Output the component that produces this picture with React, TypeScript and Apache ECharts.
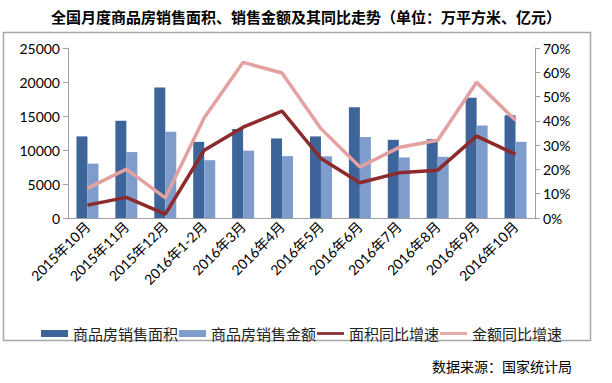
import React, { useEffect, useRef } from "react";
import * as echarts from "echarts";

const categories = [
  "2015年10月", "2015年11月", "2015年12月", "2016年1-2月", "2016年3月", "2016年4月",
  "2016年5月", "2016年6月", "2016年7月", "2016年8月", "2016年9月", "2016年10月",
];
const salesArea = [12000, 14300, 19200, 11200, 13100, 11700, 12000, 16300, 11500, 11600, 17700, 15100];
const salesAmount = [8000, 9700, 12700, 8500, 9900, 9100, 9070, 11900, 8900, 9000, 13600, 11200];
const areaGrowth = [5.3, 8.5, 1.6, 27.9, 37.4, 44.0, 24.5, 14.5, 18.6, 19.7, 33.7, 26.2];
const amountGrowth = [12.2, 20.1, 8.3, 41.3, 64.1, 59.7, 36.8, 21.0, 29.0, 32.0, 55.9, 40.2];
const seriesNames = ["商品房销售面积", "商品房销售金额", "面积同比增速", "金额同比增速"];
const titleText = "全国月度商品房销售面积、销售金额及其同比走势（单位：万平方米、亿元）";
const sourceText = "数据来源：国家统计局";

const FONT = 'Lato, "Noto Sans CJK SC", sans-serif';
const CJK = '"Noto Sans CJK SC", sans-serif';
const LINE_ICON = "path://M0,0 L30,0 L30,3 L0,3 Z";

export default function App() {
  const ref = useRef<HTMLDivElement>(null);
  useEffect(() => {
    if (!ref.current) return;
    const chart = echarts.init(ref.current, undefined, { renderer: "svg" });
    chart.setOption({
      animation: false,
      backgroundColor: "#fff",
      title: {
        text: titleText,
        left: "center",
        top: 4,
        textStyle: { fontFamily: CJK, fontSize: 15, fontWeight: "bold", color: "#000" },
      },
      graphic: [
        {
          type: "rect",
          shape: { x: 3.5, y: 32.5, width: 587, height: 308 },
          style: { fill: "none", stroke: "#A6A6A6", lineWidth: 1.5 },
          silent: true,
        },
        {
          type: "text",
          right: 40,
          top: 359,
          style: { text: sourceText, font: `14px ${CJK}`, fill: "#000" },
        },
      ],
      legend: {
        data: [
          { name: seriesNames[0], icon: "rect" },
          { name: seriesNames[1], icon: "rect" },
          { name: seriesNames[2], icon: LINE_ICON },
          { name: seriesNames[3], icon: LINE_ICON },
        ],
        top: 321,
        left: 36,
        itemWidth: 27,
        itemHeight: 7,
        itemGap: 1,
        textStyle: { fontFamily: CJK, fontSize: 15, color: "#222" },
      },
      grid: { left: 68, right: 77, top: 48, bottom: 165 },
      xAxis: {
        type: "category",
        data: categories,
        boundaryGap: true,
        axisLine: { lineStyle: { color: "#A0A0A0" } },
        axisTick: { lineStyle: { color: "#A0A0A0" }, length: 5 },
        axisLabel: {
          rotate: 45,
          interval: 0,
          margin: 6,
          fontFamily: FONT,
          fontSize: 14,
          color: "#000",
        },
      },
      yAxis: [
        {
          type: "value",
          min: 0,
          max: 25000,
          interval: 5000,
          axisLine: { show: true, lineStyle: { color: "#A0A0A0" } },
          axisTick: { show: true, lineStyle: { color: "#A0A0A0" }, length: 5 },
          splitLine: { show: false },
          axisLabel: {
            fontFamily: FONT,
            fontSize: 14,
            color: "#000",
            margin: 8,
            formatter: (v: number) => String(v),
          },
        },
        {
          type: "value",
          min: 0,
          max: 70,
          interval: 10,
          position: "right",
          axisLine: { show: true, lineStyle: { color: "#A0A0A0" } },
          axisTick: { show: true, lineStyle: { color: "#A0A0A0" }, length: 5 },
          splitLine: { show: false },
          axisLabel: { fontFamily: FONT, fontSize: 14, color: "#000", margin: 8, formatter: "{value}%" },
        },
      ],
      series: [
        {
          name: seriesNames[0],
          type: "bar",
          data: salesArea,
          barWidth: 11,
          barGap: "0%",
          itemStyle: { color: "#3D6599" },
        },
        {
          name: seriesNames[1],
          type: "bar",
          data: salesAmount,
          barWidth: 11,
          barGap: "0%",
          itemStyle: { color: "#7E9CCC" },
        },
        {
          name: seriesNames[2],
          type: "line",
          yAxisIndex: 1,
          data: areaGrowth,
          symbol: "none",
          lineStyle: { color: "#8C2A2C", width: 3.5 },
          itemStyle: { color: "#8C2A2C" },
        },
        {
          name: seriesNames[3],
          type: "line",
          yAxisIndex: 1,
          data: amountGrowth,
          symbol: "none",
          lineStyle: { color: "#E3A1A0", width: 3.5 },
          itemStyle: { color: "#E3A1A0" },
        },
      ],
    });
    return () => chart.dispose();
  }, []);
  return <div ref={ref} style={{ width: 612, height: 383, position: "absolute", left: 0, top: 0 }} />;
}
